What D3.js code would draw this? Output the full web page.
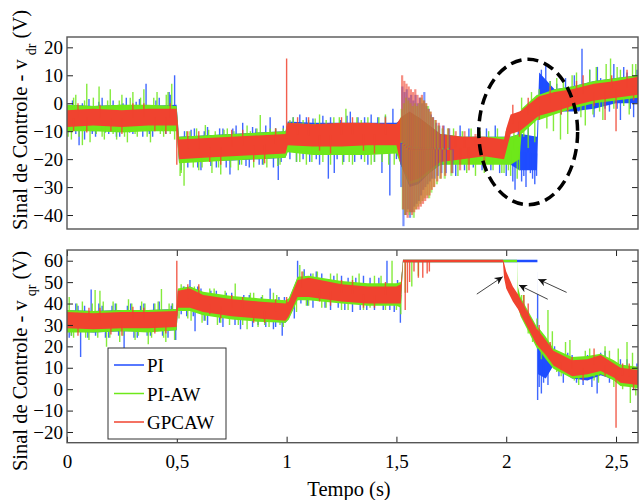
<!DOCTYPE html>
<html>
<head>
<meta charset="utf-8">
<script src="https://cdn.jsdelivr.net/npm/d3@7"></script>
<style>
  body { margin: 0; background: #fff; }
  text { font-family: "Liberation Serif", "Times New Roman", serif; }
</style>
</head>
<body>
<div id="chartArea"></div>
<script>
const svgWidth = 639;
const svgHeight = 500;

const seriesNames = ['PI', 'PI-AW', 'GPCAW'];
const seriesColors = ['#1f4dff', '#6ee81a', '#f0432f'];
const xTicks = [0, 0.5, 1, 1.5, 2, 2.5];
const topTicks = [20, 10, 0, -10, -20, -30, -40];
const botTicks = [60, 50, 40, 30, 20, 10, 0, -10, -20];

// ---- top panel (v_dr): band knots, envelopes per series ----
const topT = [0, 0.12, 0.25, 0.37, 0.499, 0.51, 0.62, 0.75, 0.87, 0.995, 1.005, 1.12, 1.25, 1.37, 1.5, 1.52, 1.56, 1.6, 1.65, 1.7, 1.8, 1.9, 1.99, 2.0, 2.02, 2.06, 2.07, 2.14, 2.15, 2.22, 2.3, 2.4, 2.5, 2.6];
const topPiLo = [-9.5, -10, -9.5, -10, -9.5, -21, -20.5, -20.5, -20, -19.5, -17, -18, -18, -18, -17, -22, -30, -29, -25, -22, -21, -21, -21, -21, -22, -24, -24, -24, 2, -3, -3, -2, 0, 0];
const topPiHi = [-0.5, -1, -0.5, -1, -0.5, -12, -11.5, -11, -10.5, -10, -6.5, -7, -7, -7, -7, -6, -4, -5, -8, -11, -12, -12, -12, -12, -12, -11, -11, -12, 11, 5, 6, 8, 9, 10];
const topAwLo = [-10, -10, -10.5, -10, -10, -21.5, -21, -20.5, -20, -19.5, -17.5, -18.5, -18.5, -18.5, -18, -22, -29, -28, -25, -22, -22, -22, -22, -22, -22, -20, -11, -6, -6, -4, -2, 0, 1, 2];
const topAwHi = [-0.5, -1, -0.5, -0.5, -1, -12, -11.5, -11, -10.5, -10, -7, -7.5, -7.5, -7.5, -7.5, -6, -4, -5, -8, -11, -12, -12, -12, -12, -12, -11, -2, 3, 3, 5, 6, 8, 9, 10];
const topGpLo = [-8.5, -8, -8.5, -8, -8, -20, -19.5, -19, -18.5, -18, -15, -15.5, -15.5, -15, -15, -22, -28, -27, -24, -21, -20, -19, -20, -17, -11, -10, -9.5, -5, -4.5, -3, -1, 1, 2, 3];
const topGpHi = [-2.5, -2, -2.5, -2, -2, -13, -12.5, -12, -11.5, -11, -7, -7.5, -7, -7, -7.5, -5, -3, -5, -8, -11, -12, -12, -13, -9, -4, -3, -2.5, 2, 2.5, 4, 5, 7, 8, 9.5];

// spikes [t, v] leaving the band
const topPiSpikes = [[0.01, -9], [0.025, 1], [0.04, -11], [0.055, -15], [0.07, 0], [0.08, -13], [0.1, 1.5], [0.115, -11], [0.13, -12], [0.145, 0.5], [0.16, 2], [0.175, -10.5], [0.19, -11], [0.21, 1], [0.225, -12], [0.24, -12], [0.255, 0], [0.27, 2], [0.285, -10.5], [0.3, -11], [0.315, 0.5], [0.33, 1.5], [0.345, -12], [0.36, 7], [0.375, -11], [0.39, -12], [0.405, 1], [0.42, 2], [0.435, -10], [0.45, -11], [0.465, 4], [0.47, 3], [0.485, -10], [0.49, 10],
  [0.52, -24], [0.535, -10], [0.55, -23], [0.565, -9.5], [0.58, -9], [0.595, -23], [0.61, -24], [0.625, -10], [0.64, -8.5], [0.655, -22.5], [0.68, -23], [0.695, -9], [0.71, -9], [0.725, -23], [0.742, -25.5], [0.755, -9], [0.77, -8], [0.785, -22], [0.8, -7], [0.815, -22.5], [0.83, -23], [0.845, -8.5], [0.86, -9], [0.875, -22], [0.89, -22], [0.905, -8], [0.925, -5], [0.94, -23], [0.95, -9], [0.962, -27.5], [0.975, -21], [0.985, -8],
  [1.015, -20], [1.03, -5], [1.045, -21], [1.06, -4], [1.075, -20], [1.09, -5], [1.105, -21], [1.12, -5.5], [1.135, -20], [1.15, -22], [1.165, -4.5], [1.19, -27], [1.2, -5], [1.217, -25], [1.23, -20], [1.245, -6], [1.26, -21], [1.275, -4.5], [1.29, -3], [1.31, -21], [1.325, -5], [1.34, -20], [1.355, -5], [1.37, -22], [1.385, -4], [1.4, -21], [1.415, -5], [1.434, -25], [1.45, -4.5], [1.47, -33], [1.484, -2], [1.5, -20],
  [1.77, -26], [1.79, -8], [1.81, -24], [1.83, -9], [1.85, -23], [1.87, -8.5], [1.89, -24], [1.91, -9], [1.93, -24], [1.95, -8], [1.97, -25],
  [2.0, -26], [2.015, -10], [2.03, -28], [2.04, -31], [2.055, -9], [2.07, -28], [2.08, -26], [2.09, -30], [2.1, -8], [2.11, -25], [2.12, -27], [2.13, -29], [2.138, -26],
  [2.16, 12], [2.17, 3], [2.18, 14], [2.2, 8], [2.21, -4], [2.23, 7], [2.25, -4], [2.27, 9], [2.29, -2], [2.31, 10], [2.33, -3], [2.345, 19.5], [2.36, 0], [2.38, 12], [2.4, -5], [2.415, 13], [2.43, 9], [2.45, -2], [2.47, -3], [2.49, 14], [2.505, -2], [2.52, -6], [2.535, 13], [2.55, 11], [2.565, -2], [2.58, -5], [2.595, 12]];
const topAwSpikes = [[0.005, -12], [0.02, -13], [0.03, 2], [0.04, 3], [0.055, -12], [0.07, -15], [0.08, 1], [0.09, 7], [0.105, -14], [0.12, 2], [0.133, -11], [0.146, 6], [0.16, -12], [0.17, -13], [0.185, 1], [0.197, 5], [0.21, -11], [0.226, -13], [0.238, 1], [0.25, 3], [0.262, -12], [0.275, -14], [0.288, 2], [0.3, 4], [0.31, -11], [0.32, -12], [0.335, 2], [0.35, 5], [0.365, -12], [0.38, -14], [0.395, 2], [0.41, 4], [0.425, -11], [0.44, -12], [0.452, 3], [0.46, 4], [0.47, -11], [0.477, 7], [0.49, -13],
  [0.515, -26], [0.52, -25], [0.533, -29.5], [0.545, -10], [0.56, -10], [0.575, -23], [0.59, -9], [0.6, -24], [0.615, -23], [0.63, -7.8], [0.645, -9.5], [0.66, -25], [0.675, -10], [0.69, -23], [0.7, -25.5], [0.715, -9.5], [0.73, -9], [0.745, -23], [0.76, -10], [0.78, -24], [0.795, -22], [0.82, -8], [0.835, -10], [0.85, -23], [0.865, -9], [0.88, -4.2], [0.895, -22], [0.91, -23], [0.925, -9], [0.95, -9], [0.96, -22.5], [0.97, -22], [0.985, -9],
  [1.015, -6], [1.03, -5], [1.045, -21], [1.06, -21], [1.075, -6], [1.09, -22], [1.1, -6], [1.115, -21], [1.13, -5.5], [1.15, -4], [1.165, -21], [1.18, -6], [1.2, -22], [1.215, -5], [1.24, -5], [1.255, -22], [1.27, -2], [1.285, -21], [1.3, -22], [1.32, -5], [1.34, -6], [1.355, -21], [1.37, -5], [1.385, -22], [1.4, -21], [1.42, -5], [1.435, -21], [1.45, -4], [1.465, -22], [1.49, -22],
  [1.76, -9], [1.78, -26], [1.8, -10], [1.82, -25], [1.84, -9], [1.86, -26], [1.88, -10], [1.9, -25], [1.92, -10], [1.94, -24], [1.96, -9], [1.98, -25],
  [1.99, -25], [2.0, -10], [2.01, -24], [2.02, -26], [2.035, -10], [2.05, -27], [2.06, -24], [2.07, 2],
  [2.08, -12], [2.1, -16], [2.115, 4], [2.13, -14], [2.15, 5], [2.17, -1], [2.185, -9], [2.2, 8], [2.215, -10], [2.23, 9], [2.247, -13], [2.26, 8], [2.28, -11], [2.3, 10], [2.32, 11], [2.34, -5], [2.36, -8], [2.38, 12], [2.395, -4], [2.41, 13], [2.425, -3], [2.44, -6], [2.455, 14], [2.475, 16], [2.49, -2], [2.505, 13], [2.52, 12], [2.535, -1], [2.56, -4], [2.575, 14], [2.59, 14]];
const topGpSpikes = [[0.03, -10], [0.05, 0], [0.09, -10.5], [0.15, -0.5], [0.2, -10], [0.25, -11], [0.3, 0], [0.35, 0], [0.4, -10], [0.45, -11], [0.47, 0], [0.5, -22], [0.55, -10], [0.6, -10], [0.65, -21], [0.7, -22], [0.75, -9.5], [0.8, -9.5], [0.85, -21], [0.9, -21.5], [0.95, -9], [1.0, 16], [1.05, -5], [1.1, -5], [1.15, -17], [1.2, -18], [1.25, -5], [1.3, -5], [1.35, -17], [1.4, -18], [1.45, -5],
  [2.03, -0.5], [2.06, -12], [2.1, 2], [2.15, -6], [2.2, 6], [2.25, -4], [2.28, -3], [2.32, 8], [2.35, 10], [2.4, -1], [2.45, -6], [2.48, 10], [2.5, -10], [2.55, 12], [2.58, 1]];

// oscillation after 1.52 s, drawn last so the colours mix
const topPiOsc = [[1.522, -30], [1.527, 6], [1.532, -44], [1.537, 4], [1.542, -40], [1.547, 5], [1.552, -38], [1.557, 2], [1.562, -41], [1.567, 3], [1.572, -39], [1.577, 1], [1.582, -37], [1.587, 3], [1.592, -36], [1.597, 0], [1.602, -35], [1.607, 2], [1.612, -33], [1.617, 0], [1.622, -31], [1.627, 4], [1.632, -30], [1.637, -1], [1.642, -29], [1.647, -2], [1.652, -28], [1.657, -4], [1.662, -27], [1.667, -5], [1.674, -27], [1.681, -7], [1.688, -26], [1.695, -8], [1.705, -25], [1.715, -8], [1.725, -25], [1.74, -9], [1.755, -25]];
const topAwOsc = [[1.524, -2], [1.529, -38], [1.534, 0], [1.539, -40], [1.544, 2], [1.549, -39], [1.554, 1], [1.559, -40], [1.564, 0], [1.569, -39], [1.574, -1], [1.579, -41], [1.584, 0], [1.589, -38], [1.594, -1], [1.599, -37], [1.604, 0], [1.609, -36], [1.614, 2], [1.619, -35], [1.624, 1], [1.629, -34], [1.634, 0], [1.639, -33], [1.644, -1], [1.649, -34], [1.654, -3], [1.659, -32], [1.664, -5], [1.67, -30], [1.677, -6], [1.684, -29], [1.691, -8], [1.7, -27], [1.71, -9], [1.72, -27], [1.735, -9], [1.75, -26]];
const topGpOsc = [[1.526, 10], [1.531, -38], [1.536, 8], [1.541, -40], [1.546, 7], [1.551, -41], [1.556, 6], [1.561, -39], [1.566, 5], [1.571, -40], [1.576, 4], [1.581, -39], [1.586, 5], [1.591, -38], [1.596, 3], [1.601, -38], [1.606, 2], [1.611, -37], [1.616, 3], [1.621, -36], [1.626, 1], [1.631, -35], [1.636, 0], [1.641, -34], [1.646, -2], [1.651, -33], [1.656, -3], [1.661, -31], [1.666, -5], [1.672, -30], [1.679, -6], [1.686, -28], [1.693, -7], [1.702, -27], [1.712, -8], [1.722, -26], [1.737, -9], [1.752, -25], [1.77, -10], [1.79, -24], [1.81, -10], [1.83, -24], [1.86, -11], [1.9, -23]];

// ---- bottom panel (v_qr) ----
const botT = [0, 0.12, 0.25, 0.37, 0.499, 0.505, 0.56, 0.62, 0.75, 0.87, 0.995, 1.01, 1.05, 1.1, 1.25, 1.37, 1.5, 1.52, 1.53, 1.985, 1.99, 2.0, 2.03, 2.049, 2.053, 2.065, 2.14, 2.142, 2.145, 2.18, 2.215, 2.3, 2.37, 2.43, 2.49, 2.52, 2.6];
const botPiLo = [27, 26.5, 27, 27, 27.5, 37, 37, 35, 33, 32, 31, 33, 42, 42, 40.5, 39.5, 39.5, 39, 59.3, 59.3, 59.3, 59.3, 59.3, 59.3, 59.3, 59.3, 59.3, 59.3, 7, 5, 11, 5, 4, 6.5, 4.5, 2, 1];
const botPiHi = [37, 36.5, 37, 37, 37.5, 46.5, 48, 45, 43, 42, 41, 42, 52, 52.5, 50, 49, 49, 49, 60.5, 60.5, 60.5, 60.5, 60.5, 60.5, 60.5, 60.5, 60.5, 60.5, 20, 18, 18, 14, 14, 15.5, 12.5, 10, 9];
const botAwLo = [26.5, 26.5, 27, 26.5, 27.5, 36.5, 36.5, 34.5, 32.5, 31.5, 31, 32.5, 41.5, 41.5, 40, 39, 39, 38, 59.3, 59.3, 59.3, 59.3, 59.3, 59.3, 39, 34, 19, 19, 19, 14, 9.5, 5, 5.5, 7, 4, 1.5, 0.5];
const botAwHi = [37, 36.5, 37, 37, 37.5, 47, 48, 45.5, 43.5, 42.5, 41.5, 42.5, 52.5, 53, 50.5, 49.5, 49.5, 50, 60.5, 60.5, 60.5, 60.5, 60.5, 60.5, 48, 43, 29, 29, 29, 24.5, 19, 15, 15.5, 16.5, 13.5, 11.5, 10.5];
const botGpLo = [28.5, 28, 28.5, 28.5, 29, 38, 38, 36, 34, 33, 32, 34, 43, 43, 41, 40, 40, 40, 59.3, 59.3, 52, 47, 41, 38, 37.5, 35, 20.5, 20.5, 20, 16, 11, 6, 7, 8.5, 5.5, 3, 2];
const botGpHi = [36, 35.5, 36, 36, 36.5, 46, 47, 44, 42, 41, 40, 41, 51, 52, 49, 48, 48, 49, 60.5, 60.5, 59, 55, 48, 45, 44.5, 42, 28, 28, 27.5, 23, 18, 13.5, 14, 16, 12, 10, 9];

const botPiSpikes = [[0.01, 24], [0.02, 25], [0.04, 40], [0.05, 39], [0.062, 15], [0.08, 39], [0.095, 24], [0.11, 46.5], [0.13, 25], [0.145, 40], [0.16, 39], [0.175, 24], [0.19, 24], [0.205, 39], [0.22, 40], [0.235, 25], [0.26, 18], [0.275, 39], [0.29, 40], [0.305, 24], [0.32, 24], [0.335, 39], [0.35, 40], [0.365, 25], [0.38, 25], [0.395, 40], [0.42, 41], [0.435, 25], [0.46, 24], [0.475, 39], [0.48, 40], [0.495, 23],
  [0.52, 35], [0.53, 48], [0.545, 34], [0.56, 51], [0.575, 34], [0.583, 27], [0.595, 48], [0.61, 47], [0.625, 32], [0.64, 30], [0.655, 46], [0.68, 46], [0.695, 31], [0.71, 29], [0.725, 45], [0.75, 45], [0.765, 30], [0.79, 28], [0.805, 44], [0.83, 44], [0.845, 29], [0.87, 30], [0.885, 43], [0.905, 29], [0.925, 47], [0.94, 28], [0.95, 29], [0.965, 43], [0.98, 25], [0.99, 43],
  [1.02, 44], [1.035, 33], [1.05, 60], [1.065, 40], [1.08, 56], [1.095, 39], [1.11, 54], [1.12, 38], [1.135, 55], [1.16, 54], [1.175, 38], [1.2, 37], [1.215, 53], [1.235, 38], [1.25, 53], [1.265, 37], [1.28, 52], [1.3, 36], [1.315, 52], [1.335, 37], [1.35, 53], [1.365, 37], [1.38, 52], [1.4, 37], [1.42, 52], [1.44, 37], [1.457, 60], [1.47, 37], [1.49, 36], [1.505, 51], [1.518, 31],
  [2.143, -5], [2.15, 1], [2.16, -2], [2.17, 3], [2.19, 2], [2.2, 21], [2.22, 20], [2.24, 6], [2.26, 3], [2.28, 17], [2.3, 16], [2.32, 3], [2.35, 2], [2.37, 16], [2.39, 1], [2.414, -2], [2.43, 17], [2.45, 18], [2.47, 3], [2.5, 5], [2.52, 14], [2.55, 14], [2.57, 1], [2.58, 0], [2.595, 12]];
const botAwSpikes = [[0.01, 43], [0.02, 25], [0.03, 24], [0.045, 40], [0.07, 41], [0.085, 24], [0.1, 23], [0.115, 40], [0.128, 46.3], [0.14, 24], [0.15, 46], [0.165, 41], [0.18, 19.8], [0.195, 24], [0.21, 41], [0.225, 40], [0.24, 22], [0.255, 25], [0.28, 42], [0.295, 40], [0.31, 23], [0.325, 25], [0.34, 41], [0.355, 40], [0.37, 21], [0.385, 24], [0.4, 40], [0.415, 41], [0.43, 46.8], [0.44, 24], [0.45, 22], [0.465, 40], [0.48, 40], [0.49, 23],
  [0.51, 33], [0.52, 49], [0.535, 48], [0.55, 33], [0.565, 32], [0.58, 48], [0.6, 48], [0.615, 31], [0.63, 32], [0.65, 47], [0.67, 47], [0.685, 30], [0.7, 31], [0.72, 46], [0.74, 30], [0.766, 49.4], [0.78, 30], [0.8, 30], [0.82, 28], [0.835, 45], [0.85, 45], [0.87, 29], [0.89, 44], [0.9, 30], [0.92, 29], [0.94, 45], [0.955, 44], [0.97, 30], [0.985, 29],
  [1.015, 35], [1.03, 46], [1.045, 36], [1.06, 58], [1.075, 55], [1.09, 39], [1.1, 39], [1.12, 54], [1.14, 55], [1.16, 38], [1.18, 38], [1.2, 54], [1.23, 54], [1.25, 37], [1.28, 37], [1.3, 53], [1.33, 54], [1.35, 37], [1.38, 38], [1.4, 53], [1.43, 53], [1.45, 37], [1.48, 60], [1.5, 37], [1.52, 35],
  [1.54, 45], [1.57, 48], [1.6, 53],
  [2.07, 44], [2.08, 44], [2.1, 26], [2.12, 22], [2.14, 33], [2.16, 14], [2.19, 37], [2.21, 27], [2.23, 8], [2.25, 6], [2.27, 22], [2.29, 23], [2.31, 4], [2.33, 2], [2.36, 18], [2.38, 19], [2.4, 4], [2.42, 3], [2.45, 20], [2.47, 18], [2.49, 1], [2.51, 19], [2.53, 0], [2.55, 22], [2.565, -6.5], [2.575, 17], [2.59, -3]];
const botGpSpikes = [[0.05, 25], [0.1, 38], [0.15, 38], [0.2, 25.5], [0.25, 25], [0.3, 38.5], [0.35, 38], [0.4, 26], [0.45, 26], [0.5, 60], [0.55, 49], [0.6, 49], [0.65, 35], [0.7, 33], [0.75, 44], [0.8, 43], [0.85, 31], [0.9, 31], [0.95, 42], [1.0, 43], [1.07, 55], [1.15, 41], [1.2, 39], [1.25, 51], [1.3, 51], [1.35, 38], [1.4, 38], [1.45, 50],
  [1.54, 37], [1.55, 45], [1.56, 50], [1.58, 55], [1.6, 52], [1.62, 52], [1.64, 54], [1.65, 55],
  [2.08, 44], [2.1, 40], [2.15, 30], [2.2, 22], [2.25, 9], [2.3, 15], [2.35, 4], [2.4, 19], [2.45, 6], [2.5, -18], [2.53, 12], [2.56, 12], [2.58, 0]];

// annotations in data units: arrows [t0, v0, t1(tip), v1], ellipse [t, v, rt, rv]
const arrows = [[1.866, 44.4, 1.984, 52.5], [2.189, 42, 2.058, 48.6], [2.275, 45.2, 2.146, 51.3]];
const ellipse = [2.1, -10.3, 0.225, 26];

const canvas = d3.select('#chartArea')
  .append('svg')
  .attr('width', svgWidth)
  .attr('height', svgHeight);

const x = d3.scaleLinear().domain([0, 2.6]).range([67, 638]);
const yTop = d3.scaleLinear().domain([-45, 23.7]).range([229, 37]);
const yBot = d3.scaleLinear().domain([-25, 65]).range([442.7, 250]);

const defs = canvas.append('defs');
defs.append('marker')
  .attr('id', 'head')
  .attr('viewBox', '0 0 10 10')
  .attr('refX', 10).attr('refY', 5)
  .attr('markerWidth', 11).attr('markerHeight', 8)
  .attr('markerUnits', 'userSpaceOnUse')
  .attr('orient', 'auto')
  .append('path')
  .attr('d', 'M0,0 L10,5 L0,10 L3,5 Z')
  .attr('fill', '#111');

function spikeLines(g, y, mid, data, color, width, opacity) {
  g.selectAll(null)
    .data(data)
    .join('line')
    .attr('x1', d => x(d[0]))
    .attr('x2', d => x(d[0]))
    .attr('y1', d => y(mid(d[0])))
    .attr('y2', d => y(d[1]))
    .attr('stroke', color)
    .attr('stroke-width', width)
    .attr('stroke-opacity', opacity);
}

function drawPanel(id, y, t, bands, spikes, osc) {
  defs.append('clipPath').attr('id', id)
    .append('rect')
    .attr('x', x.range()[0]).attr('y', y.range()[1])
    .attr('width', x.range()[1] - x.range()[0])
    .attr('height', y.range()[0] - y.range()[1]);

  const g = canvas.append('g').attr('clip-path', `url(#${id})`);
  const area = d3.area()
    .x(d => x(d.t))
    .y0(d => y(d.lo))
    .y1(d => y(d.hi));

  // center of each band, for spike origins
  const mids = bands.map(b => d3.scaleLinear().domain(t).range(t.map((_, k) => (b[0][k] + b[1][k]) / 2)));

  bands.forEach((b, i) => {
    const rows = t.map((tt, k) => ({ t: tt, lo: b[0][k], hi: b[1][k] }));
    g.append('path')
      .datum(rows)
      .attr('d', area)
      .attr('fill', seriesColors[i]);
    spikeLines(g, y, mids[i], spikes[i], seriesColors[i], 1.4, 0.85);
  });

  if (osc) {
    osc.forEach((o, i) => spikeLines(g, y, mids[i], o, seriesColors[i], 2.2, 0.6));
  }
  return g;
}

function frame(y, ticks, withX) {
  const x0 = x.range()[0], x1 = x.range()[1];
  const axisStyle = sel => {
    sel.select('.domain').remove();
    sel.selectAll('line').attr('stroke', '#222');
    sel.selectAll('text')
      .attr('fill', '#000')
      .style('font-size', '19px')
      .style('font-family', '"Liberation Serif", serif');
  };
  canvas.append('g')
    .attr('transform', `translate(${x0},0)`)
    .call(d3.axisLeft(y).tickValues(ticks).tickSize(-6).tickPadding(4))
    .call(axisStyle);
  canvas.append('g')
    .attr('transform', `translate(${x1},0)`)
    .call(d3.axisRight(y).tickValues(ticks).tickSize(-6).tickFormat(''))
    .call(axisStyle);
  if (withX) {
    canvas.append('g')
      .attr('transform', `translate(0,${y.range()[0]})`)
      .call(d3.axisBottom(x).tickValues(xTicks).tickSize(-6).tickPadding(12)
        .tickFormat(d => String(d).replace('.', ',')))
      .call(axisStyle);
    canvas.append('g')
      .attr('transform', `translate(0,${y.range()[1]})`)
      .call(d3.axisTop(x).tickValues(xTicks).tickSize(-6).tickFormat(''))
      .call(axisStyle);
  }
  canvas.append('rect')
    .attr('x', x0).attr('y', y.range()[1])
    .attr('width', x1 - x0).attr('height', y.range()[0] - y.range()[1])
    .attr('fill', 'none')
    .attr('stroke', '#555')
    .attr('stroke-width', 1.4);
}

// top panel
const gTop = drawPanel('clipTop', yTop, topT,
  [[topPiLo, topPiHi], [topAwLo, topAwHi], [topGpLo, topGpHi]],
  [topPiSpikes, topAwSpikes, topGpSpikes],
  [topPiOsc, topAwOsc, topGpOsc]);

gTop.append('ellipse')
  .attr('cx', x(ellipse[0]))
  .attr('cy', yTop(ellipse[1]))
  .attr('rx', x(ellipse[2]) - x(0))
  .attr('ry', yTop(0) - yTop(ellipse[3]))
  .attr('fill', 'none')
  .attr('stroke', '#000')
  .attr('stroke-width', 3.5)
  .attr('stroke-dasharray', '11,6');

frame(yTop, topTicks, false);

// bottom panel
const gBot = drawPanel('clipBot', yBot, botT,
  [[botPiLo, botPiHi], [botAwLo, botAwHi], [botGpLo, botGpHi]],
  [botPiSpikes, botAwSpikes, botGpSpikes], null);

gBot.selectAll(null)
  .data(arrows)
  .join('line')
  .attr('x1', d => x(d[0])).attr('y1', d => yBot(d[1]))
  .attr('x2', d => x(d[2])).attr('y2', d => yBot(d[3]))
  .attr('stroke', '#444')
  .attr('stroke-width', 1)
  .attr('marker-end', 'url(#head)');

frame(yBot, botTicks, true);

// legend
const legend = canvas.append('g').attr('transform', 'translate(108,348)');
legend.append('rect')
  .attr('width', 118).attr('height', 91)
  .attr('fill', '#fff')
  .attr('stroke', '#333')
  .attr('stroke-width', 1);
seriesNames.forEach((name, i) => {
  const ly = 17 + i * 28.5;
  legend.append('line')
    .attr('x1', 6).attr('x2', 36)
    .attr('y1', ly).attr('y2', ly)
    .attr('stroke', seriesColors[i])
    .attr('stroke-width', 1.5);
  legend.append('text')
    .attr('x', 39).attr('y', ly + 7)
    .style('font-size', '19px')
    .text(name);
});

// axis titles
function yTitle(cx, cy, sub) {
  const t = canvas.append('text')
    .attr('transform', `translate(${cx},${cy}) rotate(-90)`)
    .attr('text-anchor', 'middle')
    .style('font-size', '20.5px');
  t.append('tspan').text('Sinal de Controle - v\u2009');
  t.append('tspan').attr('dy', 9).style('font-size', '14px').text(sub);
  t.append('tspan').attr('dy', -9).text(' (V)');
}
yTitle(27, 120, 'dr');
yTitle(27, 361, 'qr');

canvas.append('text')
  .attr('x', 349).attr('y', 496)
  .attr('text-anchor', 'middle')
  .style('font-size', '20.5px')
  .text('Tempo (s)');
</script>
</body>
</html>
